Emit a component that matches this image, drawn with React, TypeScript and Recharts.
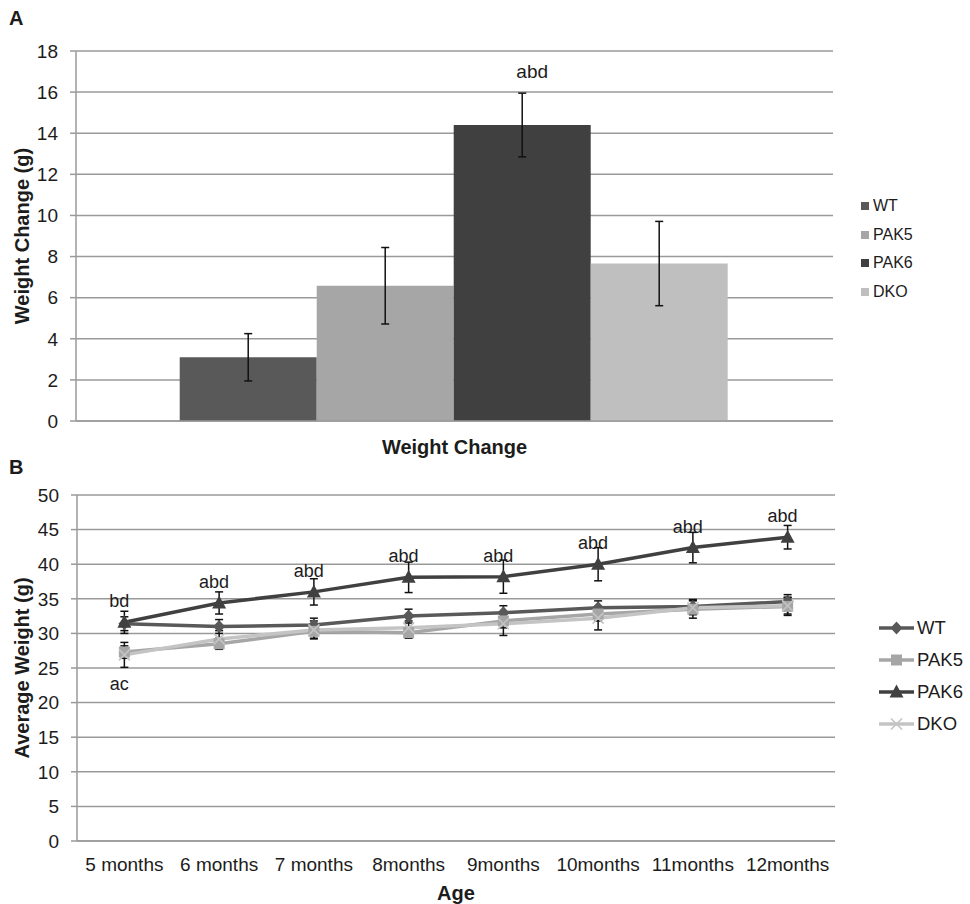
import {
  BarChart,
  Bar,
  LineChart,
  Line,
  XAxis,
  YAxis,
  CartesianGrid,
  ErrorBar,
  Legend,
  Label,
  LabelList,
} from "recharts"

const font = "'Liberation Sans', Arial, Helvetica, sans-serif"
const axisGray = "#9a9a9a"
const textColor = "#1c1c1c"

// Panel A: total weight change per genotype
const groups = ["WT", "PAK5", "PAK6", "DKO"]
const groupColors = ["#595959", "#a6a6a6", "#404040", "#bfbfbf"]
const weightChange = [3.1, 6.58, 14.4, 7.66]
const weightChangeErr = [1.15, 1.86, 1.55, 2.05]
const weightChangeSig = ["", "", "abd", ""]
const weightChangeTicks = [0, 2, 4, 6, 8, 10, 12, 14, 16, 18]

// Panel B: average weight by age
const ages = ["5 months", "6 months", "7 months", "8months", "9months", "10months", "11months", "12months"]
const wtWeight = [31.4, 31.0, 31.2, 32.5, 33.0, 33.7, 33.9, 34.6]
const wtErr = [1.0, 1.0, 1.0, 1.0, 1.0, 1.0, 1.0, 1.0]
const pak5Weight = [27.3, 28.5, 30.3, 30.1, 31.8, 32.8, 33.5, 33.9]
const pak5Err = [0.9, 0.8, 1.0, 0.8, 1.0, 1.0, 1.3, 1.3]
const pak6Weight = [31.6, 34.4, 36.0, 38.1, 38.2, 40.0, 42.4, 43.9]
const pak6Err = [1.6, 1.6, 1.9, 2.2, 2.4, 2.4, 2.2, 1.7]
const dkoWeight = [26.9, 29.2, 30.5, 30.8, 31.4, 32.2, 33.7, 34.0]
const dkoErr = [1.8, 1.2, 1.3, 1.0, 1.7, 1.7, 1.0, 1.2]
const pak6Sig = ["bd", "abd", "abd", "abd", "abd", "abd", "abd", "abd"]
const pak5Sig = ["ac", "", "", "", "", "", "", ""]
const avgWeightTicks = [0, 5, 10, 15, 20, 25, 30, 35, 40, 45, 50]

const barRow: Record<string, any> = { name: "Weight Change" }
groups.forEach((g, i) => {
  barRow[g] = weightChange[i]
  barRow[`${g}_err`] = weightChangeErr[i]
})
const barData = [barRow]

const lineData = ages.map((age, i) => ({
  age,
  WT: wtWeight[i],
  WT_err: wtErr[i],
  PAK5: pak5Weight[i],
  PAK5_err: pak5Err[i],
  PAK5_sig: pak5Sig[i],
  PAK6: pak6Weight[i],
  PAK6_err: pak6Err[i],
  PAK6_sig: pak6Sig[i],
  DKO: dkoWeight[i],
  DKO_err: dkoErr[i],
}))

const lineSeries = [
  { key: "WT", color: "#595959", marker: "diamond" },
  { key: "PAK5", color: "#a6a6a6", marker: "square" },
  { key: "PAK6", color: "#404040", marker: "triangle" },
  { key: "DKO", color: "#c4c4c4", marker: "cross" },
]

const Marker = ({ cx, cy, shape, color }: { cx: number; cy: number; shape: string; color: string }) => {
  if (cx == null || cy == null) return null
  switch (shape) {
    case "diamond":
      return <polygon points={`${cx},${cy - 6.5} ${cx + 6},${cy} ${cx},${cy + 6.5} ${cx - 6},${cy}`} fill={color} />
    case "square":
      return <rect x={cx - 5.5} y={cy - 5.5} width={11} height={11} fill={color} />
    case "triangle":
      return <polygon points={`${cx},${cy - 7.5} ${cx + 7},${cy + 5.5} ${cx - 7},${cy + 5.5}`} fill={color} />
    default:
      return (
        <g stroke={color} strokeWidth={1.6}>
          <line x1={cx - 5.5} y1={cy - 5.5} x2={cx + 5.5} y2={cy + 5.5} />
          <line x1={cx - 5.5} y1={cy + 5.5} x2={cx + 5.5} y2={cy - 5.5} />
        </g>
      )
  }
}

const RotatedTitle = ({ viewBox, value, x }: any) => {
  const cy = viewBox.y + viewBox.height / 2
  return (
    <text
      x={x}
      y={cy}
      transform={`rotate(-90, ${x}, ${cy})`}
      textAnchor="middle"
      dominantBaseline="central"
      fontFamily={font}
      fontSize={20}
      fontWeight="bold"
      fill={textColor}
    >
      {value}
    </text>
  )
}

const BottomTitle = ({ viewBox, value, dy }: any) => (
  <text
    x={viewBox.x + viewBox.width / 2}
    y={viewBox.y + dy}
    textAnchor="middle"
    dominantBaseline="central"
    fontFamily={font}
    fontSize={20}
    fontWeight="bold"
    fill={textColor}
  >
    {value}
  </text>
)

const BarLegend = () => (
  <div style={{ fontFamily: font, fontSize: 16, color: textColor }}>
    {groups.map((g, i) => (
      <div key={g} style={{ display: "flex", alignItems: "center", height: 28.5 }}>
        <span style={{ width: 8, height: 8, background: groupColors[i], marginRight: 4 }} />
        <span>{g}</span>
      </div>
    ))}
  </div>
)

const LineLegend = () => (
  <div style={{ fontFamily: font, fontSize: 18.5, color: textColor }}>
    {lineSeries.map((s) => (
      <div key={s.key} style={{ display: "flex", alignItems: "center", height: 32 }}>
        <svg width={35} height={16} style={{ marginRight: 3 }}>
          <line x1={0} y1={8} x2={35} y2={8} stroke={s.color} strokeWidth={3.5} />
          <Marker cx={17.5} cy={8} shape={s.marker} color={s.color} />
        </svg>
        <span>{s.key}</span>
      </div>
    ))}
  </div>
)

const tickStyle = { fontFamily: font, fontSize: 19, fill: textColor }

const WeightChangeChart = () => (
  <BarChart
    width={970}
    height={460}
    data={barData}
    margin={{ top: 51, right: 137, left: 0, bottom: 0 }}
    barCategoryGap="13.7%"
    barGap={0}
  >
    <CartesianGrid vertical={false} stroke={axisGray} strokeWidth={1.5} />
    <XAxis dataKey="name" height={39} tick={false} stroke={axisGray} strokeWidth={1.5}>
      <Label value="Weight Change" content={(p: any) => <BottomTitle {...p} dy={26} />} />
    </XAxis>
    <YAxis
      width={76}
      domain={[0, 18]}
      ticks={weightChangeTicks}
      interval={0}
      tickSize={6}
      tickMargin={12}
      tick={tickStyle}
      stroke={axisGray}
      strokeWidth={1.5}
    >
      <Label value="Weight Change (g)" content={(p: any) => <RotatedTitle {...p} x={22} />} />
    </YAxis>
    <Legend
      layout="horizontal"
      verticalAlign="middle"
      align="center"
      wrapperStyle={{ left: 861, top: 192, width: 100 }}
      content={() => <BarLegend />}
    />
    {groups.map((g, i) => (
      <Bar
        key={g}
        dataKey={g}
        fill={groupColors[i]}
        isAnimationActive={false}
        label={(p: any) => {
          const sig = weightChangeSig[i]
          if (!sig) return null
          const errPx = (weightChangeErr[i] * p.height) / p.value
          return (
            <text
              key={`sig-${g}`}
              x={p.x + p.width / 2 + 10}
              y={p.y - errPx - 22}
              textAnchor="middle"
              dominantBaseline="central"
              fontFamily={font}
              fontSize={19}
              fill={textColor}
            >
              {sig}
            </text>
          )
        }}
      >
        <ErrorBar dataKey={`${g}_err`} width={4} strokeWidth={1.5} stroke="#111" direction="y" />
      </Bar>
    ))}
  </BarChart>
)

const sigLabel = (below: boolean) => (p: any) => {
  if (!p.value) return null
  return (
    <text
      x={p.x - 5}
      y={below ? p.y + 32 : p.y - 21}
      textAnchor="middle"
      dominantBaseline="central"
      fontFamily={font}
      fontSize={18}
      fill={textColor}
    >
      {p.value}
    </text>
  )
}

const AverageWeightChart = () => (
  <LineChart
    width={970}
    height={444}
    data={lineData}
    margin={{ top: 35, right: 135, left: 0, bottom: 0 }}
  >
    <CartesianGrid vertical={false} stroke={axisGray} strokeWidth={1.5} />
    <XAxis
      dataKey="age"
      scale="band"
      height={63}
      interval={0}
      tickLine={false}
      tickSize={5}
      tickMargin={12}
      tick={tickStyle}
      stroke={axisGray}
      strokeWidth={1.5}
    >
      <Label value="Age" content={(p: any) => <BottomTitle {...p} dy={52} />} />
    </XAxis>
    <YAxis
      width={77}
      domain={[0, 50]}
      ticks={avgWeightTicks}
      interval={0}
      tickSize={6}
      tickMargin={12}
      tick={tickStyle}
      stroke={axisGray}
      strokeWidth={1.5}
    >
      <Label value="Average Weight (g)" content={(p: any) => <RotatedTitle {...p} x={22} />} />
    </YAxis>
    <Legend
      layout="horizontal"
      verticalAlign="middle"
      align="center"
      wrapperStyle={{ left: 879, top: 152, width: 90 }}
      content={() => <LineLegend />}
    />
    {lineSeries.map((s) => (
      <Line
        key={s.key}
        dataKey={s.key}
        stroke={s.color}
        strokeWidth={3.5}
        isAnimationActive={false}
        dot={(p: any) => <Marker key={`${s.key}-${p.index}`} cx={p.cx} cy={p.cy} shape={s.marker} color={s.color} />}
        activeDot={false}
      >
        <ErrorBar dataKey={`${s.key}_err`} width={4} strokeWidth={1.5} stroke="#111" direction="y" />
        {s.key === "PAK6" && <LabelList dataKey="PAK6_sig" content={sigLabel(false)} />}
        {s.key === "PAK5" && <LabelList dataKey="PAK5_sig" content={sigLabel(true)} />}
      </Line>
    ))}
  </LineChart>
)

const panelLetter = (top: number): React.CSSProperties => ({
  position: "absolute",
  left: 9,
  top,
  fontFamily: font,
  fontSize: 20,
  fontWeight: "bold",
  color: textColor,
  lineHeight: "20px",
})

export default function App() {
  return (
    <div style={{ position: "absolute", left: 0, top: 0, width: 970, height: 904, background: "#fff" }}>
      <div style={panelLetter(8)}>A</div>
      <div style={panelLetter(457)}>B</div>
      <div style={{ position: "absolute", left: 0, top: 0 }}>
        <WeightChangeChart />
      </div>
      <div style={{ position: "absolute", left: 0, top: 460 }}>
        <AverageWeightChart />
      </div>
    </div>
  )
}
